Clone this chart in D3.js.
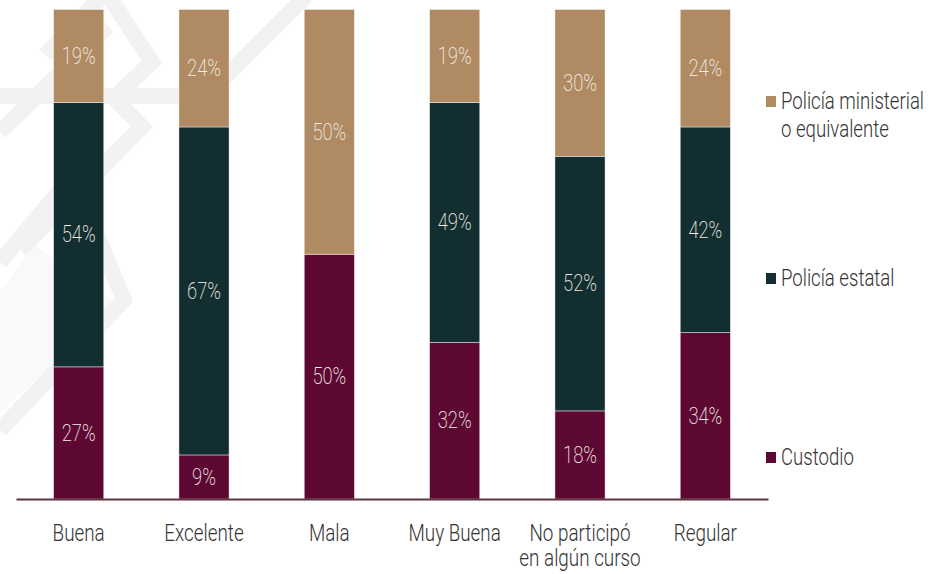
<!DOCTYPE html>
<html>
<head>
<meta charset="utf-8">
<script src="https://cdn.jsdelivr.net/npm/d3@7"></script>
<style>
  html, body { margin: 0; padding: 0; background: #ffffff; }
  svg { display: block; }
  text { font-family: Roboto, "Open Sans", sans-serif; font-weight: 300; }
  text.thin { font-weight: 200; }
</style>
</head>
<body>
<svg id="chart" width="946" height="574"></svg>
<script>
// ---- data ----
const categories = ["Buena", "Excelente", "Mala", "Muy Buena", "No participó en algún curso", "Regular"];
const categoryLines = [["Buena"], ["Excelente"], ["Mala"], ["Muy Buena"], ["No participó", "en algún curso"], ["Regular"]];
const seriesNames = ["Custodio", "Policía estatal", "Policía ministerial o equivalente"];
const custodio = [27, 9, 50, 32, 18, 34];
const policiaEstatal = [54, 67, 0, 49, 52, 42];
const policiaMinisterial = [19, 24, 50, 19, 30, 24];
const colors = ["#5d0733", "#122e30", "#b08a62"];
const legendLines = [["Custodio"], ["Policía estatal"], ["Policía ministerial", "o equivalente"]];

// ---- layout ----
const svg = d3.select("#chart");
const plot = { left: 16, right: 768, top: 9.5, bottom: 499 };

// watermark (decorative background)
const wm = svg.append("g").attr("class", "watermark");
wm.append("path").attr("d", "M0,292 L34,245 L118,305 L0,412 Z").attr("fill", "#f9f9f9");
const wmPaths = [
  "M0,96 L180,96",
  "M0,132 L108,26",
  "M45,55 L106,-8 L152,62 L112,100",
  "M112,96 L142,127 L20,250",
  "M306,-4 L222,80",
  "M0,262 L72,176 L124,300 L0,430"
];
wmPaths.forEach(d => wm.append("path").attr("d", d).attr("fill", "none")
  .attr("stroke", "#f2f2f2").attr("stroke-width", 16).attr("stroke-linejoin", "miter"));

const x = d3.scaleBand().domain(categories).range([plot.left, plot.right])
  .paddingInner(0.6).paddingOuter(0.3);
const y = d3.scaleLinear().domain([0, 100]).range([plot.bottom, plot.top]);

const rows = categories.map((c, i) => ({
  cat: c, s0: custodio[i], s1: policiaEstatal[i], s2: policiaMinisterial[i]
}));
const stacked = d3.stack().keys(["s0", "s1", "s2"])(rows);

const g = svg.append("g");
stacked.forEach((layer, li) => {
  g.append("g").selectAll("rect").data(layer).join("rect")
    .attr("x", d => x(d.data.cat))
    .attr("width", x.bandwidth())
    .attr("y", d => y(d[1]))
    .attr("height", d => Math.max(0, y(d[0]) - y(d[1])))
    .attr("fill", colors[li])
    .attr("stroke", "#ffffff").attr("stroke-opacity", 0.55).attr("stroke-width", 0.8);
});

// value labels
stacked.forEach((layer) => {
  layer.forEach(d => {
    const v = d[1] - d[0];
    if (v <= 0) return;
    const cx = x(d.data.cat) + x.bandwidth() / 2;
    const cy = (y(d[0]) + y(d[1])) / 2;
    g.append("text").attr("class", "thin")
      .attr("transform", `translate(${cx},${cy}) scale(0.8,1)`)
      .attr("text-anchor", "middle").attr("dominant-baseline", "central")
      .attr("font-size", 23).attr("fill", "#f3efe8")
      .text(v + "%");
  });
});

// x axis
const xAxis = d3.axisBottom(x).tickSize(0).tickFormat("");
const ax = svg.append("g").attr("transform", `translate(0,${plot.bottom})`).call(xAxis);
ax.select(".domain").attr("stroke", "#5b3442").attr("stroke-width", 2);

categories.forEach((c, i) => {
  const cx = x(c) + x.bandwidth() / 2;
  categoryLines[i].forEach((ln, j) => {
    svg.append("text")
      .attr("transform", `translate(${cx},${541 + j * 25}) scale(0.82,1)`)
      .attr("text-anchor", "middle")
      .attr("font-size", 23).attr("fill", "#333333")
      .text(ln);
  });
});

// legend
const legendBaselines = [465, 286, 109];
seriesNames.forEach((s, i) => {
  const by = legendBaselines[i];
  svg.append("rect").attr("x", 766).attr("y", by - 13).attr("width", 10).attr("height", 11)
    .attr("fill", colors[i]);
  legendLines[i].forEach((ln, j) => {
    svg.append("text")
      .attr("transform", `translate(781,${by + j * 28}) scale(0.775,1)`)
      .attr("font-size", 24).attr("fill", "#333333")
      .text(ln);
  });
});
</script>
</body>
</html>
